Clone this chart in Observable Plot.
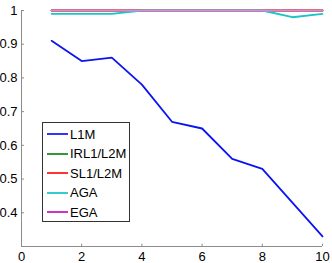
<!DOCTYPE html>
<html><head><meta charset="utf-8">
<script src="https://cdn.jsdelivr.net/npm/d3@7"></script>
<script src="https://cdn.jsdelivr.net/npm/@observablehq/plot@0.6"></script>
<style>
body{margin:0;background:#fff;}
#wrap{position:relative;width:332px;height:263px;font-family:"Liberation Sans",Arial,sans-serif;}
#legend{position:absolute;left:42px;top:122px;width:86px;height:98px;border:1px solid #333;background:#fff;box-sizing:content-box;}
.row{position:absolute;left:4px;height:14px;display:flex;align-items:center;font-size:13px;color:#000;}
.row svg{margin-right:2px;}
</style>
</head><body>
<div id="wrap"><div id="legend"></div></div>
<script>
const xs = [1,2,3,4,5,6,7,8,9,10];
const seriesNames = ["L1M","IRL1/L2M","SL1/L2M","AGA","EGA"];
const colors = ["#0000ff","#008000","#ff0000","#00bfbf","#bf00bf"];
const lineColors = ["#0a14f0","#008000","#ff0000","#1cc4c4","#d88ad8"];
const l1m  = [0.91,0.85,0.86,0.78,0.67,0.65,0.56,0.53,0.43,0.33];
const irl1 = [1,1,1,1,1,1,1,1,1,1];
const sl1  = [1,1,1,1,1,1,1,1,1,1];
const aga  = [0.99,0.99,0.99,1,1,1,1,1,0.98,0.99];
const ega  = [1,1,1,1,1,1,1,1,1,1];
const xTicks = [0,2,4,6,8,10];
const yTicks = [0.4,0.5,0.6,0.7,0.8,0.9,1];

const allSeries = [l1m, irl1, sl1, aga, ega];
const rows = [];
allSeries.forEach((vals,i)=>vals.forEach((v,j)=>rows.push({x:xs[j], y:v, s:seriesNames[i]})));

const plot = Plot.plot({
  width:332, height:263,
  marginLeft:21, marginRight:10, marginTop:10, marginBottom:17,
  style:{fontFamily:"Liberation Sans, Arial, sans-serif", fontSize:"13px", background:"transparent", color:"#000", overflow:"visible"},
  x:{domain:[0,10], label:null},
  y:{domain:[0.3,1], label:null},
  color:{domain:seriesNames, range:lineColors},
  marks:[
    Plot.ruleX([0],{stroke:"#8c8c8c"}),
    Plot.ruleY([0.3],{stroke:"#8c8c8c"}),
    Plot.ruleY(yTicks,{x1:0, x2:0.1, stroke:"#8c8c8c"}),
    Plot.ruleX(xTicks,{y1:0.3, y2:0.307, stroke:"#8c8c8c"}),
    Plot.axisY(yTicks,{label:null, tickSize:0, tickPadding:4, tickFormat:d=>d===1?"1":d.toFixed(1), fill:"#000", fontSize:13}),
    Plot.axisX(xTicks,{label:null, tickSize:0, tickPadding:5, tickFormat:d=>String(d), fill:"#000", fontSize:13}),
    Plot.line(rows,{x:"x", y:"y", z:"s", stroke:"s", strokeWidth:1.8})
  ]
});
const wrap = document.getElementById("wrap");
wrap.insertBefore(plot, wrap.firstChild);

const legend = document.getElementById("legend");
seriesNames.forEach((name,i)=>{
  const r = document.createElement("div");
  r.className="row";
  r.style.top = (4 + i*19.6) + "px";
  r.innerHTML = `<svg width="21" height="4"><line x1="0" y1="2" x2="21" y2="2" stroke="${colors[i]}" stroke-width="1.6"/></svg><span>${name}</span>`;
  legend.appendChild(r);
});
</script>
</body></html>
